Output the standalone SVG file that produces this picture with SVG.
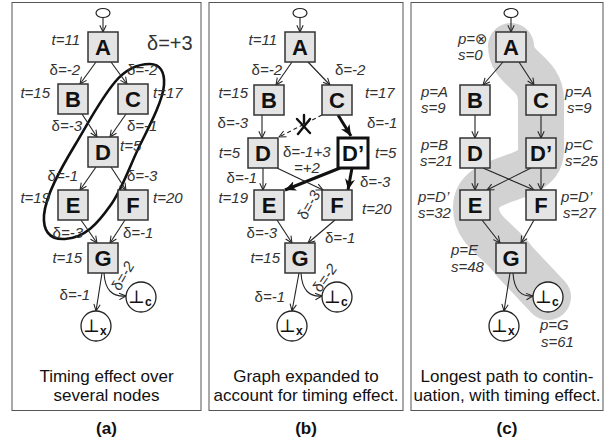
<svg xmlns="http://www.w3.org/2000/svg" width="613" height="445" viewBox="0 0 613 445">
<defs>
<marker id="ah" viewBox="0 0 10 10" refX="9.5" refY="5" markerWidth="8" markerHeight="8" orient="auto" markerUnits="userSpaceOnUse">
<path d="M1,1 L9.5,5 L1,9" fill="none" stroke="#222" stroke-width="1.3"/>
</marker>
<marker id="ahb" viewBox="0 0 12 12" refX="11" refY="6" markerWidth="12" markerHeight="12" orient="auto" markerUnits="userSpaceOnUse">
<path d="M0,1 L11,6 L0,11 L3,6 Z" fill="#111"/>
</marker>
<style>
.panel{fill:#fff;stroke:#555;stroke-width:1}
.box{fill:#e4e4e4;stroke:#333;stroke-width:1.5}
.boxb{fill:#fff;stroke:#111;stroke-width:3}
.nd{font-family:"Liberation Sans",Arial,sans-serif;font-weight:bold;font-size:22px;text-anchor:middle;fill:#111}
.lbl{font-family:"Liberation Sans","DejaVu Sans",Arial,sans-serif;font-style:italic;font-size:15px;fill:#333}
.d{font-style:normal}
.r{text-anchor:end}
.m{text-anchor:middle}
.e{stroke:#222;stroke-width:1.1;fill:none;marker-end:url(#ah)}
.th{stroke:#111;stroke-width:3;fill:none;marker-end:url(#ahb)}
.dash{stroke:#222;stroke-width:1.1;fill:none;stroke-dasharray:4 3;marker-end:url(#ah)}
.st{fill:#fff;stroke:#222;stroke-width:1.2}
.bot{fill:#fff;stroke:#222;stroke-width:1.3}
.bt{font-family:"DejaVu Serif",serif;font-size:18px;fill:#111;font-variant-emoji:text}
.sub{font-family:"Liberation Sans",Arial,sans-serif;font-weight:bold;font-size:12px}
.cap{font-family:"Liberation Sans",Arial,sans-serif;font-size:17px;text-anchor:middle;fill:#111}
.tag{font-family:"Liberation Sans",Arial,sans-serif;font-size:17px;font-weight:bold;text-anchor:middle;fill:#111}
</style>
</defs>

<g id="panels">
<rect class="panel" x="12" y="2.5" width="189" height="408"/>
<rect class="panel" x="209" y="2.5" width="194" height="408"/>
<rect class="panel" x="411" y="2.5" width="192" height="408"/>
</g>

<path id="highlight" d="M 511 46 C 511 70, 541 72, 541 100 L 541 150 C 541 185, 476 172, 476 208 C 476 232, 500 240, 515 262 L 548 297" fill="none" stroke="#d2d2d2" stroke-width="46" stroke-linecap="round" stroke-linejoin="round"/>

<path id="loop" d="M 150 64 C 160 64, 165 72, 164 85 C 163 100, 150 125, 140 145 C 130 165, 122 190, 110 206 C 98 223, 85 238, 65 239 C 48 240, 43 229, 44 215 C 46 195, 60 170, 75 145 C 90 120, 100 100, 115 82 C 125 70, 138 64, 150 64 Z" fill="none" stroke="#111" stroke-width="2.6"/>

<g id="connectors">
<line class="e" x1="103" y1="17.5" x2="103" y2="32"/>
<line class="e" x1="96" y1="62" x2="80" y2="84"/>
<line class="e" x1="111" y1="62" x2="127" y2="84"/>
<line class="e" x1="82" y1="114" x2="97" y2="137"/>
<line class="e" x1="126" y1="114" x2="110" y2="137"/>
<line class="e" x1="96" y1="167" x2="80" y2="190"/>
<line class="e" x1="111" y1="167" x2="126" y2="190"/>
<line class="e" x1="81" y1="220" x2="97" y2="243"/>
<line class="e" x1="125" y1="220" x2="110" y2="243"/>
<line class="e" x1="102" y1="273" x2="96" y2="311"/>
<path class="e" d="M 104 273 C 105 290, 112 297, 126 296"/>
<line class="e" x1="300" y1="17.5" x2="300" y2="32"/>
<line class="e" x1="292" y1="62" x2="276" y2="85"/>
<line class="e" x1="308" y1="62" x2="330" y2="85"/>
<line class="e" x1="262" y1="115" x2="262" y2="138"/>
<line class="dash" x1="322" y1="115" x2="279" y2="137"/>
<line class="th" x1="338" y1="115" x2="351" y2="136"/>
<line class="th" x1="340" y1="168" x2="285" y2="190"/>
<line class="th" x1="352" y1="168" x2="348" y2="190"/>
<line class="e" x1="263" y1="168" x2="263" y2="190"/>
<line class="e" x1="277" y1="168" x2="323" y2="190"/>
<line class="e" x1="277" y1="220" x2="292" y2="243"/>
<line class="e" x1="335" y1="220" x2="308" y2="243"/>
<line class="e" x1="299" y1="273" x2="292" y2="311"/>
<path class="e" d="M 301 273 C 302 290, 309 297, 322 296"/>
<line class="e" x1="511" y1="17.5" x2="511" y2="32"/>
<line class="e" x1="503" y1="62" x2="483" y2="85"/>
<line class="e" x1="519" y1="62" x2="534" y2="85"/>
<line class="e" x1="475" y1="115" x2="475" y2="138"/>
<line class="e" x1="541" y1="115" x2="541" y2="138"/>
<line class="e" x1="475" y1="168" x2="475" y2="190"/>
<line class="e" x1="483" y1="168" x2="534" y2="190"/>
<line class="e" x1="531" y1="168" x2="487" y2="190"/>
<line class="e" x1="541" y1="168" x2="541" y2="190"/>
<line class="e" x1="482" y1="220" x2="500" y2="243"/>
<line class="e" x1="534" y1="220" x2="521" y2="243"/>
<line class="e" x1="510" y1="273" x2="504" y2="311"/>
<path class="e" d="M 513 273 C 514 290, 521 297, 533 296"/>
</g>

<g id="cut" stroke="#111" stroke-width="2.4" stroke-linecap="round">
<line x1="297" y1="119" x2="310" y2="133"/>
<line x1="310" y1="119" x2="298" y2="134"/>
<line x1="304" y1="115" x2="304" y2="123"/>
</g>

<g id="a-start"><ellipse class="st" cx="103" cy="13" rx="7" ry="4.5"/></g>
<g id="a-A"><rect class="box" x="88" y="32" width="30" height="30"/><text class="nd" x="103" y="55">A</text></g>
<g id="a-B"><rect class="box" x="58" y="84" width="30" height="30"/><text class="nd" x="73" y="107">B</text></g>
<g id="a-C"><rect class="box" x="118" y="84" width="30" height="30"/><text class="nd" x="133" y="107">C</text></g>
<g id="a-D"><rect class="box" x="88" y="137" width="30" height="30"/><text class="nd" x="103" y="160">D</text></g>
<g id="a-E"><rect class="box" x="58" y="190" width="30" height="30"/><text class="nd" x="73" y="213">E</text></g>
<g id="a-F"><rect class="box" x="118" y="190" width="30" height="30"/><text class="nd" x="133" y="213">F</text></g>
<g id="a-G"><rect class="box" x="88" y="243" width="30" height="30"/><text class="nd" x="103" y="266">G</text></g>
<g id="a-botx"><circle class="bot" cx="96" cy="326" r="15"/><text class="bt" x="83" y="332">⊥<tspan class="sub" dy="3">x</tspan></text></g>
<g id="a-botc"><circle class="bot" cx="141" cy="297" r="15"/><text class="bt" x="128" y="303">⊥<tspan class="sub" dy="3">c</tspan></text></g>

<g id="b-start"><ellipse class="st" cx="300" cy="13" rx="7" ry="4.5"/></g>
<g id="b-A"><rect class="box" x="285" y="32" width="30" height="30"/><text class="nd" x="300" y="55">A</text></g>
<g id="b-B"><rect class="box" x="254" y="85" width="30" height="30"/><text class="nd" x="269" y="108">B</text></g>
<g id="b-C"><rect class="box" x="322" y="85" width="30" height="30"/><text class="nd" x="337" y="108">C</text></g>
<g id="b-D"><rect class="box" x="248" y="138" width="30" height="30"/><text class="nd" x="263" y="161">D</text></g>
<g id="b-Dp"><rect class="boxb" x="338" y="138" width="30" height="30"/><text class="nd" x="353" y="161">D’</text></g>
<g id="b-E"><rect class="box" x="254" y="190" width="30" height="30"/><text class="nd" x="269" y="213">E</text></g>
<g id="b-F"><rect class="box" x="322" y="190" width="30" height="30"/><text class="nd" x="337" y="213">F</text></g>
<g id="b-G"><rect class="box" x="285" y="243" width="30" height="30"/><text class="nd" x="300" y="266">G</text></g>
<g id="b-botx"><circle class="bot" cx="292" cy="326" r="15"/><text class="bt" x="279" y="332">⊥<tspan class="sub" dy="3">x</tspan></text></g>
<g id="b-botc"><circle class="bot" cx="337" cy="297" r="15"/><text class="bt" x="324" y="303">⊥<tspan class="sub" dy="3">c</tspan></text></g>

<g id="c-start"><ellipse class="st" cx="511" cy="13" rx="7" ry="4.5"/></g>
<g id="c-A"><rect class="box" x="496" y="32" width="30" height="30"/><text class="nd" x="511" y="55">A</text></g>
<g id="c-B"><rect class="box" x="460" y="85" width="30" height="30"/><text class="nd" x="475" y="108">B</text></g>
<g id="c-C"><rect class="box" x="526" y="85" width="30" height="30"/><text class="nd" x="541" y="108">C</text></g>
<g id="c-D"><rect class="box" x="460" y="138" width="30" height="30"/><text class="nd" x="475" y="161">D</text></g>
<g id="c-Dp"><rect class="box" x="526" y="138" width="30" height="30"/><text class="nd" x="541" y="161">D’</text></g>
<g id="c-E"><rect class="box" x="460" y="190" width="30" height="30"/><text class="nd" x="475" y="213">E</text></g>
<g id="c-F"><rect class="box" x="526" y="190" width="30" height="30"/><text class="nd" x="541" y="213">F</text></g>
<g id="c-G"><rect class="box" x="496" y="243" width="30" height="30"/><text class="nd" x="511" y="266">G</text></g>
<g id="c-botx"><circle class="bot" cx="504" cy="326" r="15"/><text class="bt" x="491" y="332">⊥<tspan class="sub" dy="3">x</tspan></text></g>
<g id="c-botc"><circle class="bot" cx="548" cy="297" r="15"/><text class="bt" x="535" y="303">⊥<tspan class="sub" dy="3">c</tspan></text></g>

<g id="labels-a">
<text class="lbl r" x="80" y="45">t=11</text>
<text class="lbl" x="147" y="50" style="font-size:20px;font-style:normal">δ=+3</text>
<text class="lbl r" x="80" y="75"><tspan class="d">δ</tspan>=-2</text>
<text class="lbl" x="127" y="75"><tspan class="d">δ</tspan>=-2</text>
<text class="lbl r" x="50" y="98">t=15</text>
<text class="lbl" x="153" y="98">t=17</text>
<text class="lbl r" x="82" y="131"><tspan class="d">δ</tspan>=-3</text>
<text class="lbl" x="127" y="131"><tspan class="d">δ</tspan>=-1</text>
<text class="lbl" x="120" y="151">t=5</text>
<text class="lbl r" x="78" y="181"><tspan class="d">δ</tspan>=-1</text>
<text class="lbl" x="127" y="181"><tspan class="d">δ</tspan>=-3</text>
<text class="lbl r" x="50" y="203">t=19</text>
<text class="lbl" x="153" y="203">t=20</text>
<text class="lbl r" x="83" y="238"><tspan class="d">δ</tspan>=-3</text>
<text class="lbl" x="123" y="238"><tspan class="d">δ</tspan>=-1</text>
<text class="lbl r" x="82" y="263">t=15</text>
<text class="lbl r" x="90" y="300"><tspan class="d">δ</tspan>=-1</text>
<text class="lbl m" x="123" y="281" transform="rotate(-60 123 276)"><tspan class="d">δ</tspan>=-2</text>
</g>

<g id="labels-b">
<text class="lbl r" x="277" y="45">t=11</text>
<text class="lbl r" x="282" y="75"><tspan class="d">δ</tspan>=-2</text>
<text class="lbl" x="335" y="75"><tspan class="d">δ</tspan>=-2</text>
<text class="lbl r" x="248" y="98">t=15</text>
<text class="lbl" x="365" y="98">t=17</text>
<text class="lbl r" x="248" y="128"><tspan class="d">δ</tspan>=-3</text>
<text class="lbl" x="367" y="128"><tspan class="d">δ</tspan>=-1</text>
<text class="lbl r" x="240" y="158">t=5</text>
<text class="lbl" x="283" y="157"><tspan class="d">δ</tspan>=-1+3</text>
<text class="lbl" x="294" y="173">=+2</text>
<text class="lbl" x="375" y="158">t=5</text>
<text class="lbl r" x="257" y="183"><tspan class="d">δ</tspan>=-1</text>
<text class="lbl" x="360" y="187"><tspan class="d">δ</tspan>=-3</text>
<text class="lbl r" x="248" y="203">t=19</text>
<text class="lbl" x="362" y="214">t=20</text>
<text class="lbl m" x="309" y="210" transform="rotate(-60 309 205)"><tspan class="d">δ</tspan>=-3</text>
<text class="lbl r" x="277" y="238"><tspan class="d">δ</tspan>=-3</text>
<text class="lbl" x="325" y="243"><tspan class="d">δ</tspan>=-1</text>
<text class="lbl r" x="280" y="263">t=15</text>
<text class="lbl r" x="285" y="302"><tspan class="d">δ</tspan>=-1</text>
<text class="lbl m" x="325" y="283" transform="rotate(-55 325 278)"><tspan class="d">δ</tspan>=-2</text>
</g>

<g id="labels-c">
<text class="lbl" x="458" y="44">p=⊗</text>
<text class="lbl" x="458" y="60">s=0</text>
<text class="lbl" x="421" y="97">p=A</text>
<text class="lbl" x="421" y="113">s=9</text>
<text class="lbl" x="565" y="97">p=A</text>
<text class="lbl" x="567" y="113">s=9</text>
<text class="lbl" x="421" y="150">p=B</text>
<text class="lbl" x="420" y="166">s=21</text>
<text class="lbl" x="565" y="150">p=C</text>
<text class="lbl" x="565" y="166">s=25</text>
<text class="lbl" x="418" y="202">p=D’</text>
<text class="lbl" x="418" y="218">s=32</text>
<text class="lbl" x="561" y="202">p=D’</text>
<text class="lbl" x="563" y="218">s=27</text>
<text class="lbl" x="451" y="255">p=E</text>
<text class="lbl" x="451" y="272">s=48</text>
<text class="lbl" x="540" y="330">p=G</text>
<text class="lbl" x="541" y="347">s=61</text>
</g>

<g id="captions">
<text class="cap" x="106.5" y="382">Timing effect over</text>
<text class="cap" x="106.5" y="401">several nodes</text>
<text class="cap" x="306" y="382">Graph expanded to</text>
<text class="cap" x="306" y="401">account for timing effect.</text>
<text class="cap" x="507" y="382">Longest path to contin-</text>
<text class="cap" x="507" y="401">uation, with timing effect.</text>
<text class="tag" x="106.5" y="434">(a)</text>
<text class="tag" x="306" y="434">(b)</text>
<text class="tag" x="507" y="434">(c)</text>
</g>
</svg>
